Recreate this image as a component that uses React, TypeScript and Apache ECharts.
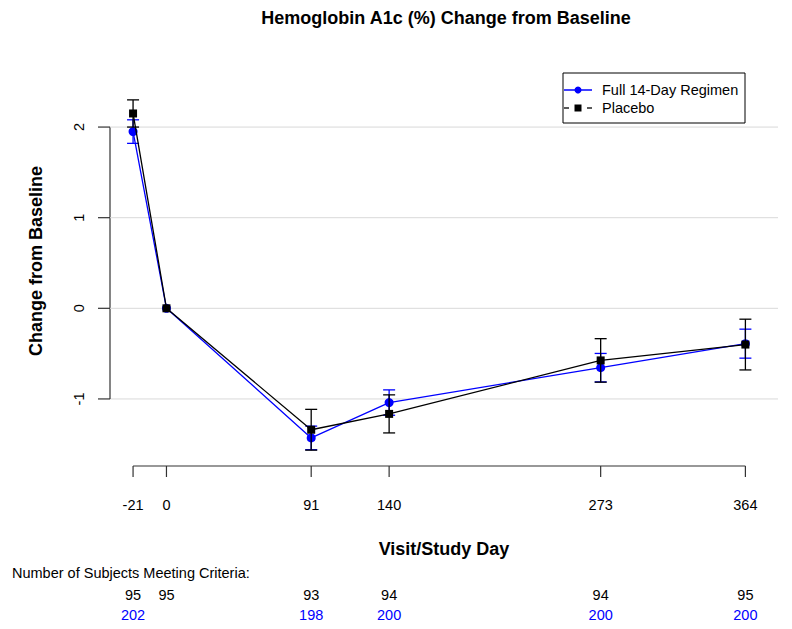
import React, { useEffect, useRef } from "react";
import * as echarts from "echarts";

const TITLE = "Hemoglobin A1c (%) Change from Baseline";
const X_TITLE = "Visit/Study Day";
const Y_TITLE = "Change from Baseline";
const COUNT_TITLE = "Number of Subjects Meeting Criteria:";

const days = [-21, 0, 91, 140, 273, 364];
const yTicks = [-1, 0, 1, 2];

const seriesNames = ["Full 14-Day Regimen", "Placebo"];
const seriesColors = ["#0000ff", "#000000"];

const regimenMean = [1.95, 0, -1.43, -1.04, -0.655, -0.39];
const regimenErr = [0.13, 0, 0.13, 0.14, 0.157, 0.16];
const placeboMean = [2.15, 0, -1.34, -1.165, -0.575, -0.4];
const placeboErr = [0.15, 0, 0.225, 0.21, 0.24, 0.28];

const placeboCounts = [95, 95, 93, 94, 94, 95];
const regimenCounts = [202, null, 198, 200, 200, 200];

const X_MIN = -35.5;
const X_MAX = 384.5;
const Y_MIN = -1.74;
const Y_MAX = 2.74;

const FONT = '"Liberation Sans", Arial, Helvetica, sans-serif';

function txt(text: string, x: number, y: number, opts: any = {}) {
  const align = opts.align || "center";
  const vAlign = opts.verticalAlign || "middle";
  return {
    type: "text",
    x,
    y,
    rotation: opts.rotation || 0,
    silent: true,
    style: {
      text,
      fill: opts.fill || "#000",
      font: opts.font || `14.5px ${FONT}`,
      align,
      verticalAlign: vAlign,
      textAlign: align,
      textVerticalAlign: vAlign,
    },
  };
}

export default function App() {
  const ref = useRef<HTMLDivElement>(null);

  useEffect(() => {
    document.body.style.margin = "0";
    const chart = echarts.init(ref.current!, null, { renderer: "svg" });

    const mkErr = (mean: number[], err: number[]) =>
      days
        .map((d, i) => [d, mean[i] - err[i], mean[i] + err[i]])
        .filter((_, i) => err[i] > 0);

    const errSeries = (name: string, data: number[][], color: string, z: number) => ({
      type: "custom",
      name: name + " err",
      z,
      clip: false,
      silent: true,
      data,
      encode: { x: 0, y: [1, 2] },
      renderItem: (params: any, api: any) => {
        const x = api.value(0);
        const lo = api.coord([x, api.value(1)]);
        const hi = api.coord([x, api.value(2)]);
        const w = 6;
        const st = { stroke: color, lineWidth: 1.3 };
        return {
          type: "group",
          children: [
            { type: "line", shape: { x1: lo[0], y1: lo[1], x2: hi[0], y2: hi[1] }, style: st },
            { type: "line", shape: { x1: lo[0] - w, y1: lo[1], x2: lo[0] + w, y2: lo[1] }, style: st },
            { type: "line", shape: { x1: hi[0] - w, y1: hi[1], x2: hi[0] + w, y2: hi[1] }, style: st },
          ],
        };
      },
    });

    const yAxisSeries = {
      type: "custom",
      name: "yaxis",
      z: 0,
      clip: false,
      silent: true,
      data: yTicks.map((v) => [X_MIN, v]),
      renderItem: (params: any, api: any) => {
        const v = api.value(1);
        const p = api.coord([X_MIN, v]);
        const pe = api.coord([X_MAX, v]);
        const children: any[] = [
          { type: "line", shape: { x1: p[0], y1: p[1], x2: pe[0], y2: pe[1] }, style: { stroke: "#d9d9d9", lineWidth: 1 } },
          { type: "line", shape: { x1: p[0] - 12, y1: p[1], x2: p[0], y2: p[1] }, style: { stroke: "#333", lineWidth: 1.2 } },
          txt(String(v), p[0] - 31, p[1], { rotation: Math.PI / 2 }),
        ];
        if (params.dataIndex === 0) {
          const a = api.coord([X_MIN, yTicks[0]]);
          const b = api.coord([X_MIN, yTicks[yTicks.length - 1]]);
          children.push({ type: "line", shape: { x1: a[0], y1: a[1], x2: b[0], y2: b[1] }, style: { stroke: "#333", lineWidth: 1.2 } });
        }
        return { type: "group", children };
      },
    };

    const xAxisSeries = {
      type: "custom",
      name: "xaxis",
      z: 0,
      clip: false,
      silent: true,
      data: days.map((d, i) => [d, Y_MIN, placeboCounts[i], regimenCounts[i] == null ? NaN : regimenCounts[i]]),
      renderItem: (params: any, api: any) => {
        const d = api.value(0);
        const p = api.coord([d, Y_MIN]);
        const children: any[] = [
          { type: "line", shape: { x1: p[0], y1: p[1], x2: p[0], y2: p[1] + 11 }, style: { stroke: "#333", lineWidth: 1.2 } },
          txt(String(d), p[0], p[1] + 39),
        ];
        const pc = api.value(2);
        const rc = api.value(3);
        if (!isNaN(pc)) children.push(txt(String(pc), p[0], p[1] + 129, { fill: seriesColors[1] }));
        if (!isNaN(rc)) children.push(txt(String(rc), p[0], p[1] + 149, { fill: seriesColors[0] }));
        if (params.dataIndex === 0) {
          const a = api.coord([days[0], Y_MIN]);
          const b = api.coord([days[days.length - 1], Y_MIN]);
          children.push({ type: "line", shape: { x1: a[0], y1: a[1], x2: b[0], y2: b[1] }, style: { stroke: "#333", lineWidth: 1.2 } });
        }
        return { type: "group", children };
      },
    };

    const legendX = 563;
    const legendY = 73;
    const legend: any[] = [
      { type: "rect", shape: { x: legendX, y: legendY, width: 182, height: 50 }, style: { fill: "#fff", stroke: "#000", lineWidth: 1 }, z: 10 },
      { type: "line", shape: { x1: legendX + 1, y1: legendY + 17, x2: legendX + 29, y2: legendY + 17 }, style: { stroke: seriesColors[0], lineWidth: 1.5 }, z: 11 },
      { type: "circle", shape: { cx: legendX + 15, cy: legendY + 17, r: 3.5 }, style: { fill: seriesColors[0] }, z: 11 },
      { type: "line", shape: { x1: legendX + 1, y1: legendY + 35, x2: legendX + 6, y2: legendY + 35 }, style: { stroke: seriesColors[1], lineWidth: 1.3 }, z: 11 },
      { type: "line", shape: { x1: legendX + 24, y1: legendY + 35, x2: legendX + 29, y2: legendY + 35 }, style: { stroke: seriesColors[1], lineWidth: 1.3 }, z: 11 },
      { type: "rect", shape: { x: legendX + 11.5, y: legendY + 31.5, width: 7, height: 7 }, style: { fill: seriesColors[1] }, z: 11 },
      { ...txt(seriesNames[0], legendX + 39, legendY + 17, { align: "left" }), z: 11 },
      { ...txt(seriesNames[1], legendX + 39, legendY + 35, { align: "left" }), z: 11 },
    ];

    const option: any = {
      animation: false,
      backgroundColor: "#fff",
      grid: { left: 110, right: 14, top: 60, bottom: 163, containLabel: false },
      xAxis: { type: "value", min: X_MIN, max: X_MAX, show: false },
      yAxis: { type: "value", min: Y_MIN, max: Y_MAX, show: false },
      graphic: [
        txt(TITLE, 446, 18, { font: `bold 18px ${FONT}` }),
        txt(Y_TITLE, 36, 261, { font: `bold 18px ${FONT}`, rotation: Math.PI / 2 }),
        txt(X_TITLE, 444, 549, { font: `bold 18px ${FONT}` }),
        txt(COUNT_TITLE, 12, 573, { align: "left" }),
        ...legend,
      ],
      series: [
        yAxisSeries,
        xAxisSeries,
        errSeries(seriesNames[0], mkErr(regimenMean, regimenErr), seriesColors[0], 2),
        {
          type: "line",
          name: seriesNames[0],
          z: 3,
          data: days.map((d, i) => [d, regimenMean[i]]),
          symbol: "circle",
          symbolSize: 9,
          lineStyle: { color: seriesColors[0], width: 1.3 },
          itemStyle: { color: seriesColors[0] },
          clip: false,
        },
        errSeries(seriesNames[1], mkErr(placeboMean, placeboErr), seriesColors[1], 4),
        {
          type: "line",
          name: seriesNames[1],
          z: 5,
          data: days.map((d, i) => [d, placeboMean[i]]),
          symbol: "rect",
          symbolSize: 8,
          lineStyle: { color: seriesColors[1], width: 1.3 },
          itemStyle: { color: seriesColors[1] },
          clip: false,
        },
      ],
    };

    chart.setOption(option);
    return () => chart.dispose();
  }, []);

  return <div ref={ref} style={{ width: 792, height: 629 }} />;
}
